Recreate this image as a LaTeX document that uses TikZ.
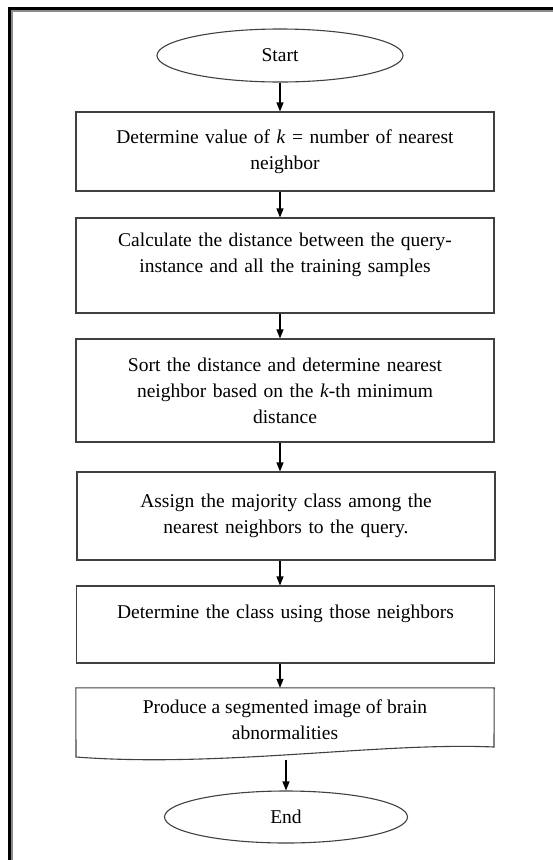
\documentclass[tikz,border=0pt]{standalone}
\usepackage{fontspec}
\setmainfont{Liberation Serif}
\usetikzlibrary{shapes.geometric, arrows.meta}

\begin{document}
\begin{tikzpicture}[x=1pt, y=-1pt,
  every node/.style={font=\fontsize{19.5}{26}\selectfont, align=center},
  termin/.style={draw=black!75, line width=1.1pt, ellipse, inner sep=0pt, minimum width=246pt, minimum height=53pt},
  procbox/.style={draw=black!75, line width=1.1pt, rectangle, minimum width=418pt, text width=400pt},
  arr/.style={line width=1.2pt, -{Triangle[length=9pt, width=7pt]}}]
\useasboundingbox (0,0) rectangle (553,860);
\draw[line width=3pt] (9.5,860)--(9.5,8.5)--(553,8.5);
\draw[line width=2pt, black!45] (12,860)--(12,11)--(553,11);
\node[termin] (start) at (280,55.5) {Start};
\node[procbox, minimum height=79pt] (detk) at (285,151.5) {Determine value of \textit{k} = number of nearest\\ neighbor};
\node[procbox, minimum height=95pt] (dist) at (285,265.5) {Calculate the distance between the query-\\ instance and all the training samples\\ ~};
\node[procbox, minimum height=103pt] (sortd) at (285,390.5) {Sort the distance and determine nearest\\ neighbor based on the \textit{k}-th minimum\\ distance};
\node[procbox, minimum height=88pt] (assign) at (286,516) {Assign the majority class among the\\ nearest neighbors to the query.};
\node[procbox, minimum height=77pt] (classd) at (285.5,624.5) {Determine the class using those neighbors\\ ~};
\node[minimum width=418pt, minimum height=64pt] (doc) at (285,720) {Produce a segmented image of brain\\ abnormalities};
\draw[black!75, line width=1.1pt] (doc.north west) -- (doc.north east) -- (494,747) .. controls (380,742) and (220,768) .. (76,757) -- cycle;
\coordinate (docb) at (286,760);
\node[termin, minimum width=243pt, minimum height=52pt] (stop) at (286,817) {End};
\draw[arr] (start.south) -- (start.south |- detk.north);
\draw[arr] (start.south |- detk.south) -- (start.south |- dist.north);
\draw[arr] (start.south |- dist.south) -- (start.south |- sortd.north);
\draw[arr] (start.south |- sortd.south) -- (start.south |- assign.north);
\draw[arr] (start.south |- assign.south) -- (start.south |- classd.north);
\draw[arr] (start.south |- classd.south) -- (start.south |- doc.north);
\draw[arr] (docb) -- (stop.north);
\end{tikzpicture}
\end{document}
